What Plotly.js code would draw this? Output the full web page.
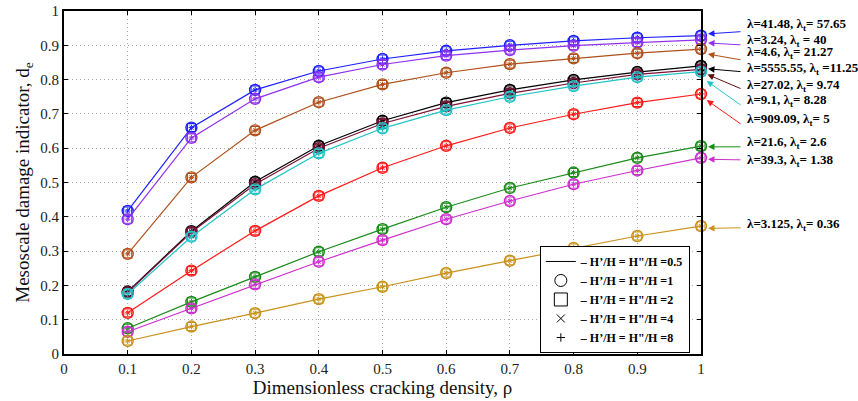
<!DOCTYPE html>
<html>
<head>
<meta charset="utf-8">
<script src="https://cdn.plot.ly/plotly-3.0.1.min.js"></script>
<style>html,body{margin:0;padding:0;background:#fff;}#chart{width:858px;height:401px;}</style>
</head>
<body>
<div id="chart"></div>
<script>
// ---- data ----
const rho = [0.1, 0.2, 0.3, 0.4, 0.5, 0.6, 0.7, 0.8, 0.9, 1.0];
const sBlue    = [0.417, 0.660, 0.770, 0.825, 0.860, 0.884, 0.900, 0.913, 0.922, 0.928];
const sPurple  = [0.393, 0.630, 0.744, 0.807, 0.844, 0.870, 0.886, 0.899, 0.908, 0.916];
const sBrown   = [0.292, 0.515, 0.652, 0.734, 0.786, 0.820, 0.845, 0.862, 0.877, 0.889];
const sBlack   = [0.182, 0.358, 0.502, 0.607, 0.680, 0.733, 0.770, 0.799, 0.822, 0.840];
const sMaroon  = [0.180, 0.355, 0.495, 0.600, 0.672, 0.722, 0.760, 0.790, 0.815, 0.830];
const sCyan    = [0.175, 0.342, 0.480, 0.585, 0.658, 0.711, 0.750, 0.781, 0.807, 0.823];
const sRed     = [0.120, 0.243, 0.359, 0.461, 0.543, 0.607, 0.659, 0.699, 0.733, 0.758];
const sGreen   = [0.075, 0.152, 0.225, 0.298, 0.364, 0.428, 0.484, 0.529, 0.572, 0.606];
const sMagenta = [0.065, 0.133, 0.203, 0.269, 0.332, 0.393, 0.446, 0.495, 0.535, 0.572];
const sGold    = [0.038, 0.080, 0.119, 0.160, 0.196, 0.236, 0.272, 0.309, 0.344, 0.373];

const labels = [
  "λ=41.48, λ<sub>t</sub>= 57.65",
  "λ=3.24, λ<sub>t</sub> = 40",
  "λ=4.6, λ<sub>t</sub>= 21.27",
  "λ=5555.55, λ<sub>t</sub> =11.25",
  "λ=27.02, λ<sub>t</sub>= 9.74",
  "λ=9.1, λ<sub>t</sub>= 8.28",
  "λ=909.09, λ<sub>t</sub>= 5",
  "λ=21.6, λ<sub>t</sub>= 2.6",
  "λ=39.3, λ<sub>t</sub>= 1.38",
  "λ=3.125, λ<sub>t</sub>= 0.36"
];
const legendLabels = ["0.5", "1", "2", "4", "8"];

const series = [sBlue, sPurple, sBrown, sBlack, sMaroon, sCyan, sRed, sGreen, sMagenta, sGold];
const colors = ['#1f1fff', '#9030f0', '#b0501c', '#000000', '#7a1238', '#22c4c8', '#ff1a1a', '#1a8c1a', '#cc30cc', '#c8921c'];
const arrowColors = ['#1f1fff', '#9030f0', '#b0501c', '#000000', '#5a1010', '#22c4c8', '#ff1a1a', '#1a8c1a', '#cc30cc', '#c8921c'];

// label placement (layout, not data)
const textY = [0.960, 0.914, 0.878, 0.831, 0.784, 0.739, 0.683, 0.617, 0.565, 0.377];
const tailY = [0.940, 0.901, 0.857, 0.823, 0.772, 0.723, 0.668, 0.604, 0.566, 0.368];
const headY = [0.932, 0.908, 0.878, 0.833, 0.823, 0.808, 0.752, 0.604, 0.568, 0.366];

const traces = [];
series.forEach((s, i) => {
  const c = colors[i];
  traces.push({x: rho, y: s, mode: 'lines+markers', line: {color: c, width: 1.2},
    marker: {symbol: 'circle-open', size: 11, color: c, line: {width: 1.4, color: c}},
    showlegend: false, hoverinfo: 'skip', cliponaxis: false});
  traces.push({x: rho, y: s, mode: 'markers',
    marker: {symbol: 'square-open', size: 8, color: c, line: {width: 1.1, color: c}},
    showlegend: false, hoverinfo: 'skip', cliponaxis: false});
  traces.push({x: rho, y: s, mode: 'markers',
    marker: {symbol: 'x-thin-open', size: 4, color: c, line: {width: 1, color: c}},
    showlegend: false, hoverinfo: 'skip', cliponaxis: false});
  traces.push({x: rho, y: s, mode: 'markers',
    marker: {symbol: 'cross-thin-open', size: 4, color: c, line: {width: 1, color: c}},
    showlegend: false, hoverinfo: 'skip', cliponaxis: false});
});

// legend dummy traces
const legSyms = [null, 'circle-open', 'square-open', 'x-thin-open', 'cross-thin-open'];
const legSizes = [0, 12, 13, 8, 6];
legendLabels.forEach((l, i) => {
  const t = {x: [null], y: [null], name: "<b>– H’/H = H\"/H =" + l + "</b>", showlegend: true};
  if (i === 0) { t.mode = 'lines'; t.line = {color: '#000', width: 1}; }
  else { t.mode = 'markers'; t.marker = {symbol: legSyms[i], size: legSizes[i], color: '#000', line: {width: 1, color: '#000'}}; }
  traces.push(t);
});

const annotations = [];
series.forEach((s, i) => {
  annotations.push({x: 1, y: headY[i], xref: 'x', yref: 'y', ax: 1.0644, ay: tailY[i], axref: 'x', ayref: 'y',
    text: '', showarrow: true, arrowhead: 2, arrowsize: 1.3, arrowwidth: 1, arrowcolor: arrowColors[i], standoff: 7});
  annotations.push({x: 1.069, y: textY[i], xref: 'paper', yref: 'paper', xanchor: 'left', yanchor: 'middle',
    text: '<b>' + labels[i] + '</b>', showarrow: false,
    font: {family: 'Liberation Serif, Times New Roman, serif', size: 13, color: '#000'}});
});

const axisCommon = {
  range: [0, 1], dtick: 0.1, tick0: 0, ticks: 'inside', ticklen: 4, tickcolor: '#000', tickwidth: 1,
  showline: true, linecolor: '#000', linewidth: 2, mirror: 'ticks',
  showgrid: true, gridcolor: '#aaaaaa', griddash: '1px,3px', gridwidth: 1, zeroline: false,
  tickfont: {family: 'Liberation Serif, Times New Roman, serif', size: 15, color: '#222'},
  fixedrange: true
};

const layout = {
  width: 858, height: 401,
  margin: {l: 64, r: 157, t: 11, b: 47},
  paper_bgcolor: '#fff', plot_bgcolor: '#fff',
  font: {family: 'Liberation Serif, Times New Roman, serif', color: '#000'},
  xaxis: Object.assign({}, axisCommon, {
    title: {text: 'Dimensionless cracking density, ρ', standoff: 2,
      font: {family: 'Liberation Serif, Times New Roman, serif', size: 19, color: '#111'}}
  }),
  yaxis: Object.assign({}, axisCommon, {
    title: {text: 'Mesoscale damage indicator, d<sub>e</sub>', standoff: 6,
      font: {family: 'Liberation Serif, Times New Roman, serif', size: 19, color: '#111'}}
  }),
  showlegend: true,
  legend: {x: 0.747, y: 0.003, xanchor: 'left', yanchor: 'bottom', bgcolor: '#fff',
    bordercolor: '#000', borderwidth: 1, tracegroupgap: 0,
    font: {family: 'Liberation Serif, Times New Roman, serif', size: 12, color: '#000'}},
  annotations: annotations
};

Plotly.newPlot('chart', traces, layout, {displayModeBar: false, staticPlot: true});
</script>
</body>
</html>
